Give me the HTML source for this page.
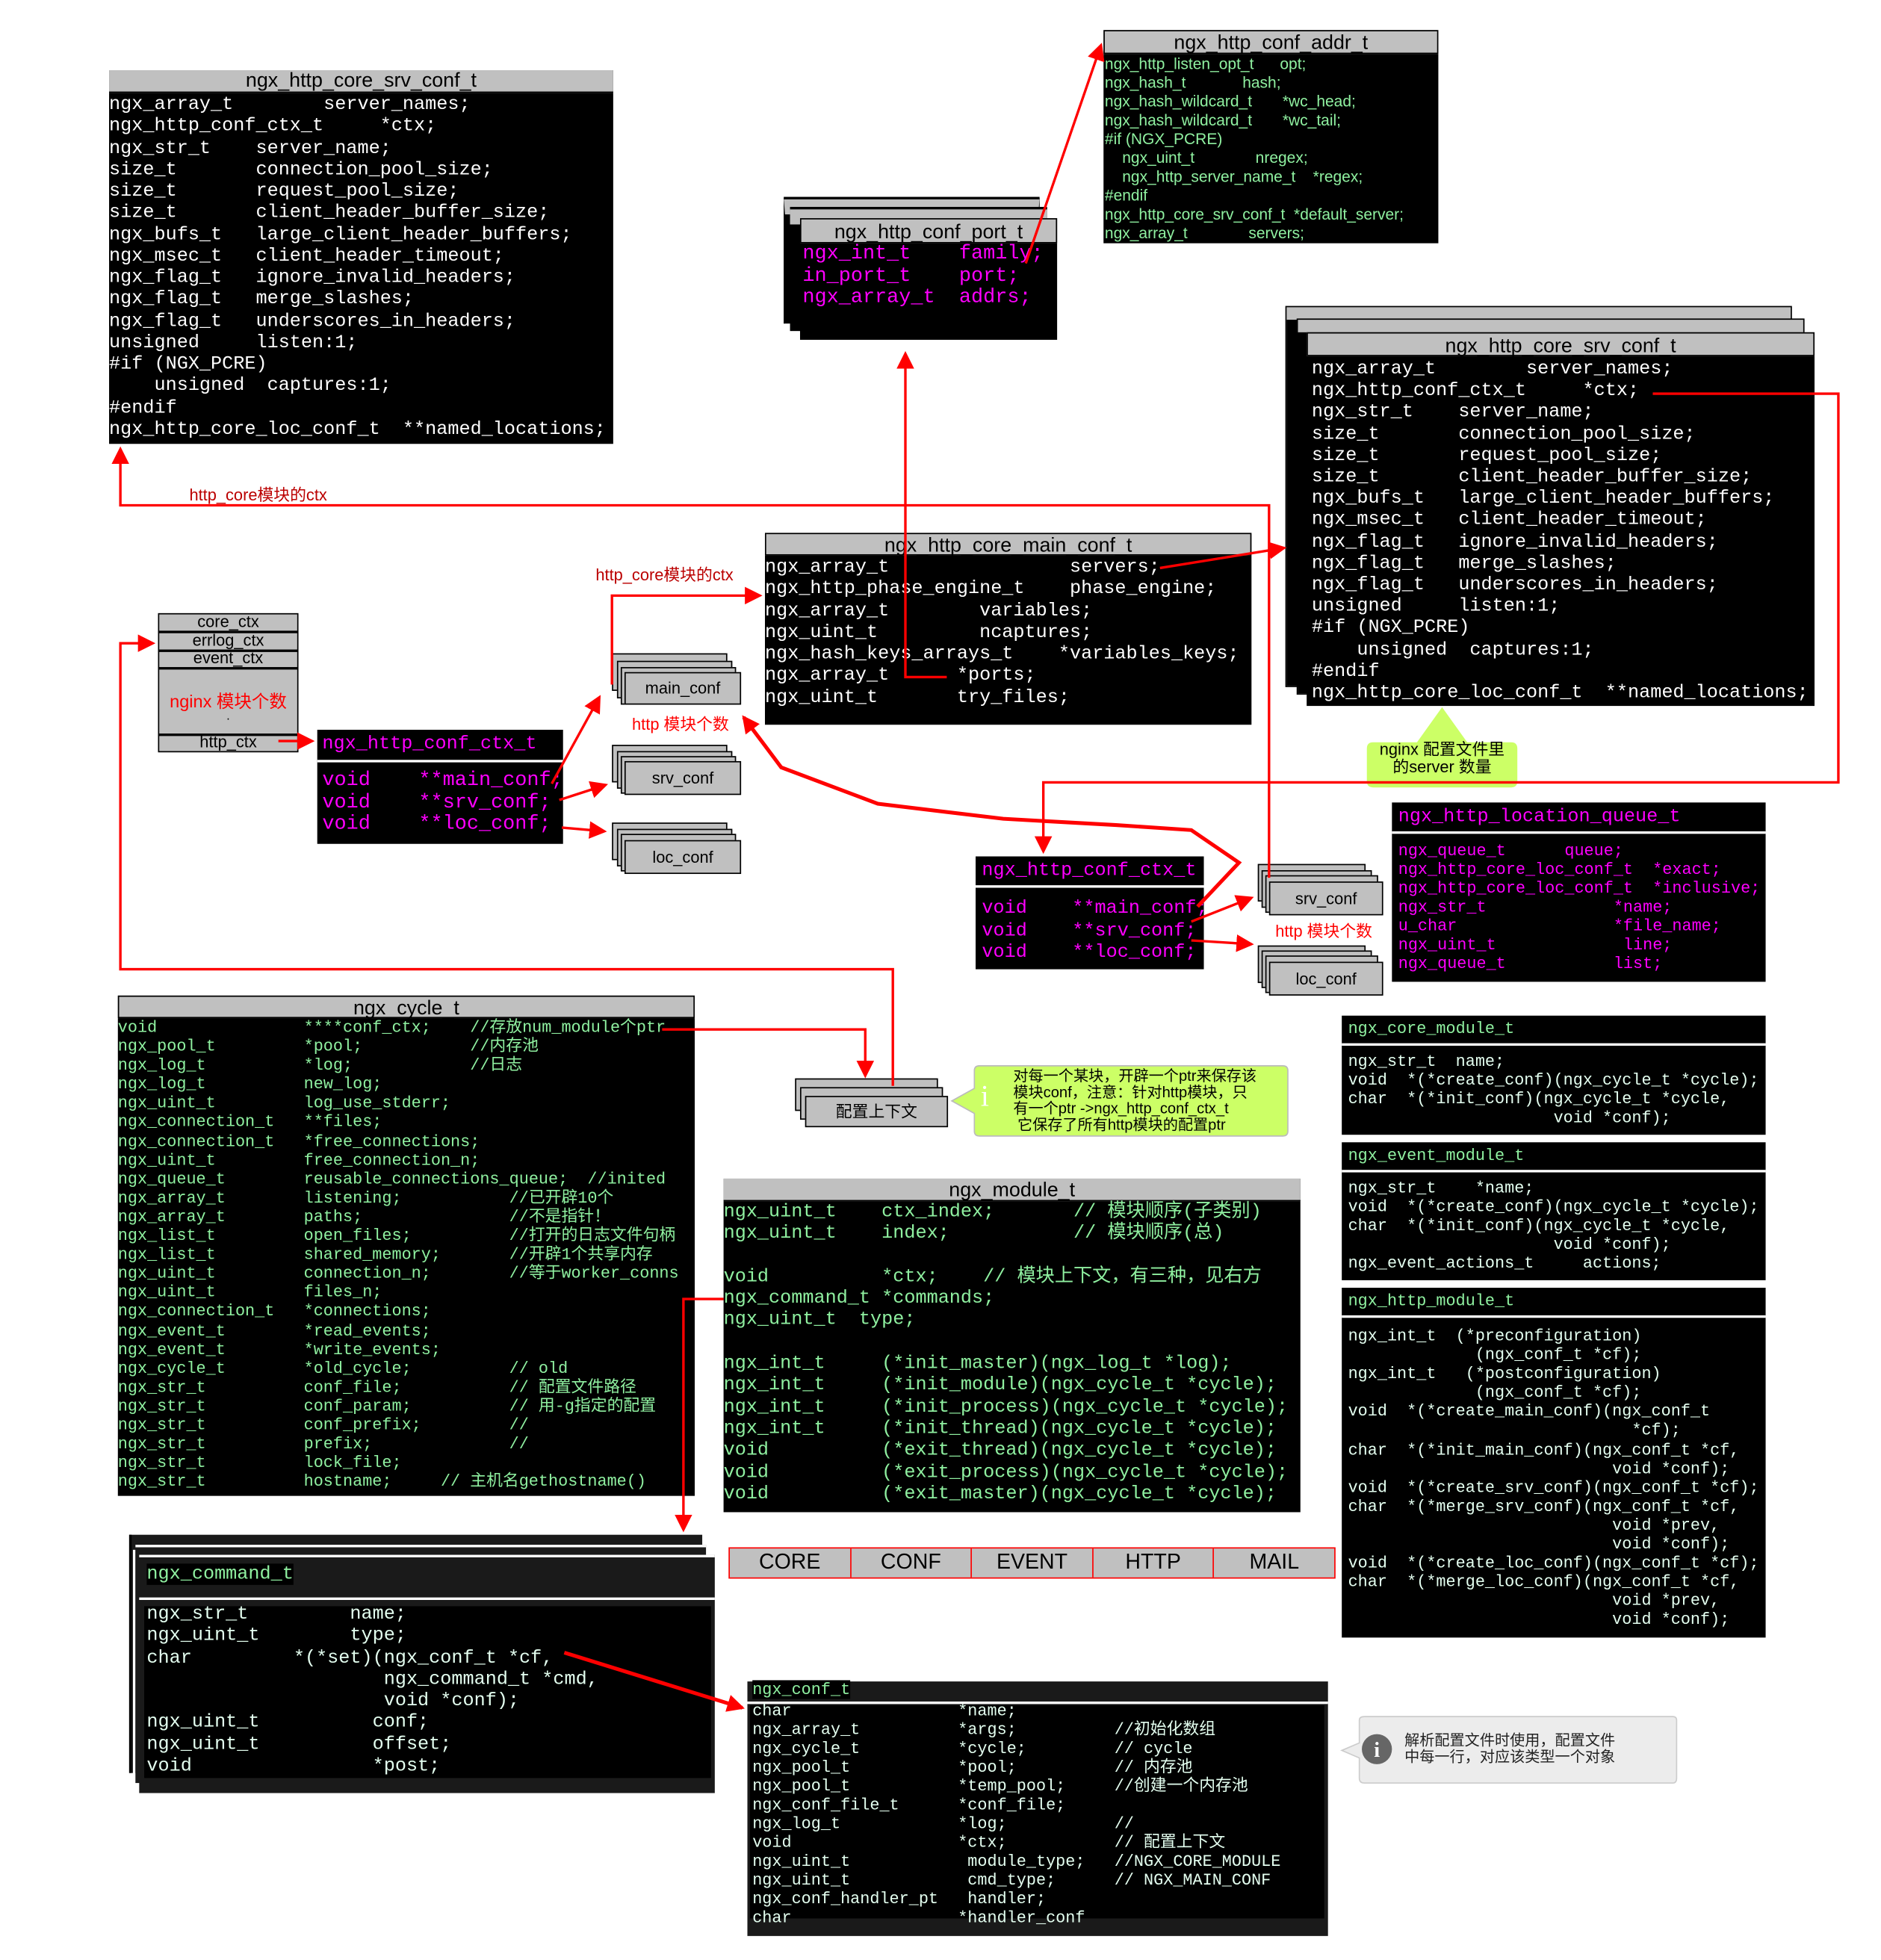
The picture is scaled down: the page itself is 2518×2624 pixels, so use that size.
<!DOCTYPE html>
<html><head><meta charset="utf-8">
<style>
html,body{margin:0;padding:0;background:#fff;}
body{width:2518px;height:2624px;overflow:hidden;position:relative;}
#w{position:absolute;left:0;top:0;width:1500px;height:1563px;transform:scale(1.67867);transform-origin:0 0;}
.a{position:absolute;box-sizing:border-box;}
.blk{background:#000;}
.gh{background:#c0c0c0;color:#000;font-family:"Liberation Sans","Noto Sans CJK SC",sans-serif;text-align:center;border-bottom:1px solid #000;}
.m{font-family:"Liberation Mono","Noto Sans CJK SC",monospace;white-space:pre;}
.s{font-family:"Liberation Sans","Noto Sans CJK SC",sans-serif;white-space:pre;}
.wt{color:#fff}.gr{color:#8ff0a0}.mg{color:#ff00ff}.wg{color:#e4fff0}
.gb{background:#c0c0c0;border:1.5px solid #000;}
.lbl{position:absolute;font-family:"Liberation Sans","Noto Sans CJK SC",sans-serif;white-space:pre;}
</style></head><body><div id="w">

<!-- left srv_conf -->
<div class="a blk" style="left:87px;top:56px;width:402px;height:298px;"></div>
<div class="a gh" style="left:87px;top:56px;width:402px;height:18px;font-size:16px;line-height:18px;">ngx_http_core_srv_conf_t</div>
<div class="a m wt" style="left:87px;top:75px;font-size:15px;line-height:17.25px;">ngx_array_t        server_names;
ngx_http_conf_ctx_t     *ctx;
ngx_str_t    server_name;
size_t       connection_pool_size;
size_t       request_pool_size;
size_t       client_header_buffer_size;
ngx_bufs_t   large_client_header_buffers;
ngx_msec_t   client_header_timeout;
ngx_flag_t   ignore_invalid_headers;
ngx_flag_t   merge_slashes;
ngx_flag_t   underscores_in_headers;
unsigned     listen:1;
#if (NGX_PCRE)
    unsigned  captures:1;
#endif
ngx_http_core_loc_conf_t  **named_locations;</div>

<!-- addr_t -->
<div class="a blk" style="left:880px;top:24px;width:267px;height:170px;"></div>
<div class="a gh" style="left:880px;top:24px;width:267px;height:19px;font-size:16px;line-height:19px;border:1px solid #000;">ngx_http_conf_addr_t</div>
<div class="a s gr" style="left:881px;top:44px;font-size:12.5px;line-height:15px;">ngx_http_listen_opt_t      opt;
ngx_hash_t             hash;
ngx_hash_wildcard_t       *wc_head;
ngx_hash_wildcard_t       *wc_tail;
#if (NGX_PCRE)
    ngx_uint_t              nregex;
    ngx_http_server_name_t    *regex;
#endif
ngx_http_core_srv_conf_t  *default_server;
ngx_array_t              servers;</div>

<!-- conf_port_t -->
<div class="a blk gb" style="left:625px;top:158px;width:204px;height:100px;background:#000;border-top:13px solid #c0c0c0;"></div>
<div class="a" style="left:625px;top:157px;width:204px;height:2px;background:#000"></div>
<div class="a blk" style="left:630px;top:166px;width:205px;height:98px;border-top:13px solid #c0c0c0;"></div>
<div class="a" style="left:630px;top:165px;width:205px;height:2px;background:#000"></div>
<div class="a blk" style="left:638px;top:174px;width:205px;height:97px;"></div>
<div class="a gh" style="left:638px;top:174px;width:205px;height:20px;font-size:16px;line-height:22px;border:1px solid #000;">ngx_http_conf_port_t</div>
<div class="a m mg" style="left:640px;top:194px;font-size:16px;line-height:17.5px;">ngx_int_t    family;
in_port_t    port;
ngx_array_t  addrs;</div>

<!-- right srv_conf stack -->
<div class="a blk" style="left:1026px;top:245px;width:402px;height:302px;border-top:10px solid #c0c0c0;outline:1px solid #000"></div>
<div class="a blk" style="left:1035px;top:255px;width:403px;height:298px;border-top:10px solid #c0c0c0;outline:1px solid #000"></div>
<div class="a blk" style="left:1042px;top:265px;width:405px;height:298px;"></div>
<div class="a gh" style="left:1042px;top:265px;width:405px;height:19px;font-size:16px;line-height:22px;border:1px solid #000;">ngx_http_core_srv_conf_t</div>
<div class="a m wt" style="left:1046px;top:286px;font-size:15px;line-height:17.2px;">ngx_array_t        server_names;
ngx_http_conf_ctx_t     *ctx;
ngx_str_t    server_name;
size_t       connection_pool_size;
size_t       request_pool_size;
size_t       client_header_buffer_size;
ngx_bufs_t   large_client_header_buffers;
ngx_msec_t   client_header_timeout;
ngx_flag_t   ignore_invalid_headers;
ngx_flag_t   merge_slashes;
ngx_flag_t   underscores_in_headers;
unsigned     listen:1;
#if (NGX_PCRE)
    unsigned  captures:1;
#endif
ngx_http_core_loc_conf_t  **named_locations;</div>

<!-- green bubble server count -->
<svg class="a" style="left:1085px;top:560px" width="130" height="72"><path d="M65 4 L85 32 L120 32 Q125 32 125 37 L125 63 Q125 68 120 68 L10 68 Q5 68 5 63 L5 37 Q5 32 10 32 L45 32 Z" fill="#ccff66"/></svg>
<div class="lbl" style="left:1090px;top:591px;width:120px;text-align:center;font-size:13px;line-height:14px;color:#000;">nginx 配置文件里
的server 数量</div>

<!-- main_conf_t -->
<div class="a blk" style="left:610px;top:425px;width:388px;height:153px;"></div>
<div class="a gh" style="left:610px;top:425px;width:388px;height:18px;font-size:16px;line-height:20px;border:1px solid #000;">ngx_http_core_main_conf_t</div>
<div class="a m wt" style="left:610px;top:444px;font-size:15px;line-height:17.3px;">ngx_array_t                servers;
ngx_http_phase_engine_t    phase_engine;
ngx_array_t        variables;
ngx_uint_t         ncaptures;
ngx_hash_keys_arrays_t    *variables_keys;
ngx_array_t      *ports;
ngx_uint_t       try_files;</div>

<!-- ctx box -->
<div class="a gb" style="left:126px;top:489px;width:112px;height:111px;"></div>
<div class="a" style="left:126px;top:503px;width:112px;height:1.5px;background:#000"></div>
<div class="a" style="left:126px;top:518px;width:112px;height:1.5px;background:#000"></div>
<div class="a" style="left:126px;top:532px;width:112px;height:1.5px;background:#000"></div>
<div class="a" style="left:126px;top:585px;width:112px;height:1.5px;background:#000"></div>
<div class="lbl" style="left:126px;top:489px;width:112px;text-align:center;font-size:13px;line-height:14px;">core_ctx</div>
<div class="lbl" style="left:126px;top:504px;width:112px;text-align:center;font-size:13px;line-height:14px;">errlog_ctx</div>
<div class="lbl" style="left:126px;top:518px;width:112px;text-align:center;font-size:13px;line-height:14px;">event_ctx</div>
<div class="lbl" style="left:126px;top:549px;width:112px;text-align:center;font-size:14px;color:#f00;">nginx 模块个数</div>
<div class="lbl" style="left:126px;top:566px;width:112px;text-align:center;font-size:10px;">.</div>
<div class="lbl" style="left:126px;top:585px;width:112px;text-align:center;font-size:13px;line-height:14px;">http_ctx</div>

<!-- left http_conf_ctx_t -->
<div class="a blk" style="left:253px;top:582px;width:196px;height:91px;"></div>
<div class="a" style="left:253px;top:606px;width:196px;height:2px;background:#fff"></div>
<div class="a m mg" style="left:257px;top:585px;font-size:15px;">ngx_http_conf_ctx_t</div>
<div class="a m mg" style="left:257px;top:614px;font-size:16px;line-height:17.5px;">void    **main_conf;
void    **srv_conf;
void    **loc_conf;</div>

<!-- stacks main/srv/loc -->
<div class="a gb" style="left:488px;top:521px;width:92px;height:30px"></div>
<div class="a gb" style="left:492px;top:527px;width:92px;height:30px"></div>
<div class="a gb" style="left:495px;top:532px;width:92px;height:30px"></div>
<div class="a gb" style="left:498px;top:536px;width:93px;height:26px;font-family:'Liberation Sans',sans-serif;font-size:13px;text-align:center;line-height:24px;">main_conf</div>
<div class="a gb" style="left:488px;top:594px;width:92px;height:30px"></div>
<div class="a gb" style="left:492px;top:599px;width:92px;height:30px"></div>
<div class="a gb" style="left:495px;top:603px;width:92px;height:30px"></div>
<div class="a gb" style="left:498px;top:607px;width:93px;height:27px;font-family:'Liberation Sans',sans-serif;font-size:13px;text-align:center;line-height:25px;">srv_conf</div>
<div class="a gb" style="left:488px;top:656px;width:92px;height:30px"></div>
<div class="a gb" style="left:492px;top:661px;width:92px;height:30px"></div>
<div class="a gb" style="left:495px;top:665px;width:92px;height:30px"></div>
<div class="a gb" style="left:498px;top:670px;width:93px;height:27px;font-family:'Liberation Sans',sans-serif;font-size:13px;text-align:center;line-height:25px;">loc_conf</div>
<div class="lbl" style="left:504px;top:567px;font-size:13px;color:#f00;">http 模块个数</div>
<div class="lbl" style="left:475px;top:448px;font-size:13px;color:#b00;">http_core模块的ctx</div>
<div class="lbl" style="left:151px;top:384px;font-size:13px;color:#b00;">http_core模块的ctx</div>

<!-- right http_conf_ctx_t -->
<div class="a blk" style="left:778px;top:683px;width:182px;height:90px;"></div>
<div class="a" style="left:778px;top:706px;width:182px;height:2px;background:#fff"></div>
<div class="a m mg" style="left:783px;top:686px;font-size:15px;">ngx_http_conf_ctx_t</div>
<div class="a m mg" style="left:783px;top:716px;font-size:15px;line-height:17.5px;">void    **main_conf;
void    **srv_conf;
void    **loc_conf;</div>

<div class="a gb" style="left:1003px;top:689px;width:86px;height:30px"></div>
<div class="a gb" style="left:1006px;top:694px;width:88px;height:30px"></div>
<div class="a gb" style="left:1009px;top:698px;width:90px;height:30px"></div>
<div class="a gb" style="left:1012px;top:703px;width:91px;height:27px;font-family:'Liberation Sans',sans-serif;font-size:13px;text-align:center;line-height:25px;">srv_conf</div>
<div class="a gb" style="left:1003px;top:754px;width:86px;height:30px"></div>
<div class="a gb" style="left:1006px;top:758px;width:88px;height:30px"></div>
<div class="a gb" style="left:1009px;top:762px;width:90px;height:30px"></div>
<div class="a gb" style="left:1012px;top:767px;width:91px;height:27px;font-family:'Liberation Sans',sans-serif;font-size:13px;text-align:center;line-height:25px;">loc_conf</div>
<div class="lbl" style="left:1017px;top:732px;font-size:13px;color:#f00;">http 模块个数</div>

<!-- location queue -->
<div class="a blk" style="left:1110px;top:640px;width:298px;height:143px;"></div>
<div class="a" style="left:1110px;top:663px;width:298px;height:2px;background:#fff"></div>
<div class="a m mg" style="left:1115px;top:643px;font-size:15px;">ngx_http_location_queue_t</div>
<div class="a m mg" style="left:1115px;top:671px;font-size:13px;line-height:15px;">ngx_queue_t      queue;
ngx_http_core_loc_conf_t  *exact;
ngx_http_core_loc_conf_t  *inclusive;
ngx_str_t             *name;
u_char                *file_name;
ngx_uint_t             line;
ngx_queue_t           list;</div>

<!-- core module -->
<div class="a blk" style="left:1070px;top:810px;width:338px;height:95px;"></div>
<div class="a" style="left:1070px;top:832px;width:338px;height:2px;background:#fff"></div>
<div class="a m gr" style="left:1075px;top:813px;font-size:13px;">ngx_core_module_t</div>
<div class="a m wg" style="left:1075px;top:839px;font-size:13px;line-height:15px;">ngx_str_t  name;
void  *(*create_conf)(ngx_cycle_t *cycle);
char  *(*init_conf)(ngx_cycle_t *cycle,
                     void *conf);</div>

<!-- event module -->
<div class="a blk" style="left:1070px;top:911px;width:338px;height:110px;"></div>
<div class="a" style="left:1070px;top:933px;width:338px;height:2px;background:#fff"></div>
<div class="a m gr" style="left:1075px;top:914px;font-size:13px;">ngx_event_module_t</div>
<div class="a m wg" style="left:1075px;top:940px;font-size:13px;line-height:15px;">ngx_str_t    *name;
void  *(*create_conf)(ngx_cycle_t *cycle);
char  *(*init_conf)(ngx_cycle_t *cycle,
                     void *conf);
ngx_event_actions_t     actions;</div>

<!-- http module -->
<div class="a blk" style="left:1070px;top:1027px;width:338px;height:279px;"></div>
<div class="a" style="left:1070px;top:1049px;width:338px;height:2px;background:#fff"></div>
<div class="a m gr" style="left:1075px;top:1030px;font-size:13px;">ngx_http_module_t</div>
<div class="a m wg" style="left:1075px;top:1058px;font-size:13px;line-height:15.1px;">ngx_int_t  (*preconfiguration)
             (ngx_conf_t *cf);
ngx_int_t   (*postconfiguration)
             (ngx_conf_t *cf);
void  *(*create_main_conf)(ngx_conf_t
                             *cf);
char  *(*init_main_conf)(ngx_conf_t *cf,
                           void *conf);
void  *(*create_srv_conf)(ngx_conf_t *cf);
char  *(*merge_srv_conf)(ngx_conf_t *cf,
                           void *prev,
                           void *conf);
void  *(*create_loc_conf)(ngx_conf_t *cf);
char  *(*merge_loc_conf)(ngx_conf_t *cf,
                           void *prev,
                           void *conf);</div>

<!-- cycle -->
<div class="a blk" style="left:94px;top:794px;width:460px;height:399px;"></div>
<div class="a gh" style="left:94px;top:794px;width:460px;height:18px;font-size:16px;line-height:20px;border:1px solid #000;">ngx_cycle_t</div>
<div class="a m gr" style="left:94px;top:812px;font-size:13px;line-height:15.1px;">void               ****conf_ctx;    //存放num_module个ptr
ngx_pool_t         *pool;           //内存池
ngx_log_t          *log;            //日志
ngx_log_t          new_log;
ngx_uint_t         log_use_stderr;
ngx_connection_t   **files;
ngx_connection_t   *free_connections;
ngx_uint_t         free_connection_n;
ngx_queue_t        reusable_connections_queue;  //inited
ngx_array_t        listening;           //已开辟10个
ngx_array_t        paths;               //不是指针！
ngx_list_t         open_files;          //打开的日志文件句柄
ngx_list_t         shared_memory;       //开辟1个共享内存
ngx_uint_t         connection_n;        //等于worker_conns
ngx_uint_t         files_n;
ngx_connection_t   *connections;
ngx_event_t        *read_events;
ngx_event_t        *write_events;
ngx_cycle_t        *old_cycle;          // old
ngx_str_t          conf_file;           // 配置文件路径
ngx_str_t          conf_param;          // 用-g指定的配置
ngx_str_t          conf_prefix;         //
ngx_str_t          prefix;              //
ngx_str_t          lock_file;
ngx_str_t          hostname;     // 主机名gethostname()</div>

<!-- 配置上下文 -->
<div class="a gb" style="left:634px;top:860px;width:114px;height:26px"></div>
<div class="a gb" style="left:638px;top:867px;width:114px;height:26px"></div>
<div class="a gb" style="left:642px;top:874px;width:114px;height:25px;font-family:'Liberation Sans','Noto Sans CJK SC',sans-serif;font-size:13px;text-align:center;line-height:23px;">配置上下文</div>

<!-- green callout -->
<svg class="a" style="left:755px;top:848px" width="278" height="64"><path d="M22 6 Q22 2 26 2 L268 2 Q272 2 272 6 L272 54 Q272 58 268 58 L26 58 Q22 58 22 54 L22 40 L4 30 L22 20 Z" fill="#ccff66" stroke="#bbb" stroke-width="1"/></svg>
<div class="lbl" style="left:782px;top:862px;font-size:24px;color:#fff;font-family:'Liberation Serif',serif;">i</div>
<div class="lbl" style="left:808px;top:852px;font-size:12px;line-height:13px;color:#000;">对每一个某块，开辟一个ptr来保存该
模块conf，注意：针对http模块，只
有一个ptr -&gt;ngx_http_conf_ctx_t
 它保存了所有http模块的配置ptr</div>

<!-- module_t -->
<div class="a blk" style="left:577px;top:940px;width:460px;height:266px;"></div>
<div class="a gh" style="left:577px;top:940px;width:460px;height:18px;font-size:16px;line-height:20px;">ngx_module_t</div>
<div class="a m gr" style="left:577px;top:958px;font-size:15px;line-height:17.3px;">ngx_uint_t    ctx_index;       // 模块顺序(子类别)
ngx_uint_t    index;           // 模块顺序(总)

void          *ctx;    // 模块上下文，有三种，见右方
ngx_command_t *commands;
ngx_uint_t  type;

ngx_int_t     (*init_master)(ngx_log_t *log);
ngx_int_t     (*init_module)(ngx_cycle_t *cycle);
ngx_int_t     (*init_process)(ngx_cycle_t *cycle);
ngx_int_t     (*init_thread)(ngx_cycle_t *cycle);
void          (*exit_thread)(ngx_cycle_t *cycle);
void          (*exit_process)(ngx_cycle_t *cycle);
void          (*exit_master)(ngx_cycle_t *cycle);</div>

<!-- type table -->
<div class="a" style="left:581px;top:1234px;width:484px;height:25px;background:#c0c0c0;border:1.5px solid #f00;display:flex;">
<div style="flex:1;border-right:1px solid #f00;text-align:center;font:17px/22px 'Liberation Sans',sans-serif;">CORE</div>
<div style="flex:1;border-right:1px solid #f00;text-align:center;font:17px/22px 'Liberation Sans',sans-serif;">CONF</div>
<div style="flex:1;border-right:1px solid #f00;text-align:center;font:17px/22px 'Liberation Sans',sans-serif;">EVENT</div>
<div style="flex:1;border-right:1px solid #f00;text-align:center;font:17px/22px 'Liberation Sans',sans-serif;">HTTP</div>
<div style="flex:1;text-align:center;font:17px/22px 'Liberation Sans',sans-serif;">MAIL</div></div>

<!-- command_t -->
<div class="a" style="left:103px;top:1224px;width:457px;height:190px;background:#1a1a1a;border-left:2px solid #000;"></div>
<div class="a" style="left:106px;top:1236px;width:2px;height:180px;background:#fff"></div>
<div class="a" style="left:108px;top:1232px;width:455px;height:190px;background:#1a1a1a;border-top:2px solid #fff"></div>
<div class="a" style="left:111px;top:1240px;width:459px;height:190px;background:#1a1a1a;border-top:2px solid #fff"></div>
<div class="a" style="left:111px;top:1274px;width:459px;height:2px;background:#fff"></div>
<div class="a blk" style="left:115px;top:1281px;width:452px;height:137px;"></div>
<div class="a m gr" style="left:117px;top:1247px;font-size:15px;background:#000;">ngx_command_t</div>
<div class="a m wg" style="left:117px;top:1279px;font-size:15px;line-height:17.3px;">ngx_str_t         name;
ngx_uint_t        type;
char         *(*set)(ngx_conf_t *cf,
                     ngx_command_t *cmd,
                     void *conf);
ngx_uint_t          conf;
ngx_uint_t          offset;
void                *post;</div>

<!-- conf_t -->
<div class="a" style="left:596px;top:1341px;width:463px;height:203px;background:#1a1a1a;"></div>
<div class="a" style="left:596px;top:1357px;width:463px;height:2px;background:#fff"></div>
<div class="a blk" style="left:598px;top:1360px;width:458px;height:170px;"></div>
<div class="a m gr" style="left:600px;top:1340px;font-size:13px;background:#000;">ngx_conf_t</div>
<div class="a m wg" style="left:600px;top:1357px;font-size:13px;line-height:15px;">char                 *name;
ngx_array_t          *args;          //初始化数组
ngx_cycle_t          *cycle;         // cycle
ngx_pool_t           *pool;          // 内存池
ngx_pool_t           *temp_pool;     //创建一个内存池
ngx_conf_file_t      *conf_file;
ngx_log_t            *log;           //
void                 *ctx;           // 配置上下文
ngx_uint_t            module_type;   //NGX_CORE_MODULE
ngx_uint_t            cmd_type;      // NGX_MAIN_CONF
ngx_conf_handler_pt   handler;
char                 *handler_conf</div>

<!-- gray callout -->
<svg class="a" style="left:1066px;top:1366px" width="276" height="60"><path d="M18 6 Q18 3 22 3 L268 3 Q271 3 271 6 L271 52 Q271 56 268 56 L22 56 Q18 56 18 52 L18 36 L4 30 L18 24 Z" fill="#ececec" stroke="#ccc" stroke-width="1"/><circle cx="32" cy="29" r="12" fill="#666"/><text x="32" y="35" font-family="Liberation Serif,serif" font-size="17" font-weight="bold" fill="#fff" text-anchor="middle">i</text></svg>
<div class="lbl" style="left:1120px;top:1382px;font-size:12px;line-height:13px;color:#222;">解析配置文件时使用，配置文件
中每一行，对应该类型一个对象</div>

<!-- connectors -->
<svg class="a" style="left:0;top:0" width="1500" height="1563">
<defs><marker id="ab" markerWidth="14" markerHeight="14" refX="12" refY="7" orient="auto" markerUnits="userSpaceOnUse"><path d="M0 0 L14 7 L0 14 Z" fill="#f00"/></marker></defs>
<g fill="none" stroke="#f00" stroke-width="2">
<polyline points="1012,700 1012,403 96,403 96,358" marker-end="url(#ab)"/>
<polyline points="712,866 712,773 96,773 96,513 122,513" marker-end="url(#ab)"/>
<polyline points="528,821 690,821 690,858" marker-end="url(#ab)"/>
<line x1="222" y1="591" x2="249" y2="591" marker-end="url(#ab)"/>
<line x1="440" y1="625" x2="478" y2="556" marker-end="url(#ab)"/>
<line x1="446" y1="638" x2="483" y2="626" marker-end="url(#ab)"/>
<line x1="448" y1="660" x2="482" y2="663" marker-end="url(#ab)"/>
<polyline points="488,546 488,475 606,475" marker-end="url(#ab)"/>
<polyline points="755,540 722,540 722,282" marker-end="url(#ab)"/>
<line x1="818" y1="210" x2="878" y2="36" marker-end="url(#ab)"/>
<line x1="925" y1="453" x2="1024" y2="437" marker-end="url(#ab)"/>
<polyline points="1318,314 1466,314 1466,624 832,624 832,679" marker-end="url(#ab)"/>
<polyline stroke-width="3" points="955,723 988,688 950,662 890,658 800,653 700,641 623,612 593,572" marker-end="url(#ab)"/>
<line x1="950" y1="735" x2="998" y2="716" marker-end="url(#ab)"/>
<line x1="950" y1="750" x2="998" y2="753" marker-end="url(#ab)"/>
<polyline points="577,1036 545,1036 545,1220" marker-end="url(#ab)"/>
<line x1="450" y1="1318" x2="592" y2="1362" stroke-width="3" marker-end="url(#ab)"/>
</g>
</svg>

</div></body></html>
